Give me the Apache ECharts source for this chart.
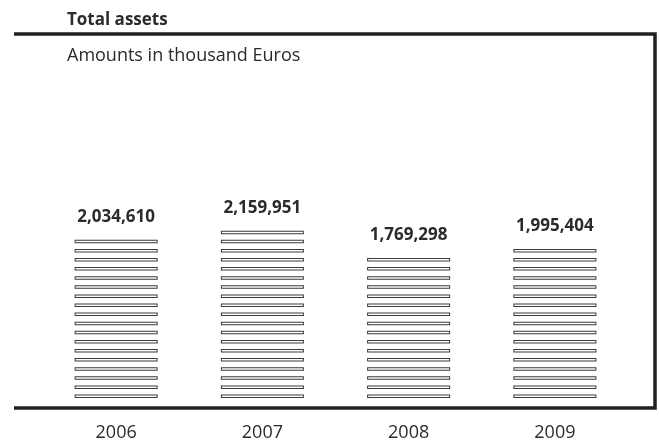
<!DOCTYPE html>
<html>
<head>
<meta charset="utf-8">
<script src="https://cdn.jsdelivr.net/npm/echarts@6/dist/echarts.min.js"></script>
<style>
  html, body { margin: 0; padding: 0; background: #fff; }
  #chart { width: 659px; height: 446px; }
</style>
</head>
<body>
<div id="chart"></div>
<script>
// Total assets, in thousand Euros
var years = ['2006', '2007', '2008', '2009'];
var assets = [2034610, 2159951, 1769298, 1995404];
var axisMax = 4820000;

var font = '"Open Sans", "Noto Sans", sans-serif';
var textColor = '#2b2b2b';

// one stripe of a bar: dark outline with a hollow middle
var stripe = 'path://M0,0H83V3.5H0Z M1,1V2.5H82V1Z';

var myChart = echarts.init(document.getElementById('chart'), null, { renderer: 'canvas' });

var option = {
  animation: false,
  backgroundColor: '#fff',
  title: [
    {
      text: 'Total assets',
      left: 67,
      top: 12,
      padding: 0,
      textStyle: { fontFamily: font, fontSize: 17, fontWeight: 'bold', color: textColor }
    },
    {
      text: 'Amounts in thousand Euros',
      left: 67,
      top: 46.5,
      padding: 0,
      textStyle: { fontFamily: font, fontSize: 18, fontWeight: 'normal', color: textColor }
    }
  ],
  grid: { left: 43, right: 31, top: 39.6, bottom: 48 },
  xAxis: {
    type: 'category',
    data: years,
    axisLine: { show: false },
    axisTick: { show: false },
    axisLabel: { margin: 26, fontFamily: font, fontSize: 18, color: textColor }
  },
  yAxis: {
    type: 'value',
    min: 0,
    max: axisMax,
    show: false,
    splitLine: { show: false }
  },
  // frame: top, right and bottom rule
  graphic: [
    {
      type: 'polyline',
      silent: true,
      shape: { points: [[14, 34], [655, 34], [655, 408], [14, 408]] },
      style: { fill: null, stroke: '#231f20', lineWidth: 3.5 }
    }
  ],
  series: [
    {
      type: 'pictorialBar',
      data: assets,
      symbol: stripe,
      symbolRepeat: true,
      symbolSize: [83, 3.5],
      symbolMargin: 2.8,
      symbolBoundingData: axisMax,
      itemStyle: { color: '#3a3a3a' },
      label: {
        show: true,
        position: 'top',
        distance: 14,
        fontFamily: font,
        fontSize: 17,
        fontWeight: 'bold',
        color: textColor,
        formatter: function (p) { return p.value.toLocaleString('en-US'); }
      }
    }
  ]
};

myChart.setOption(option);
</script>
</body>
</html>
